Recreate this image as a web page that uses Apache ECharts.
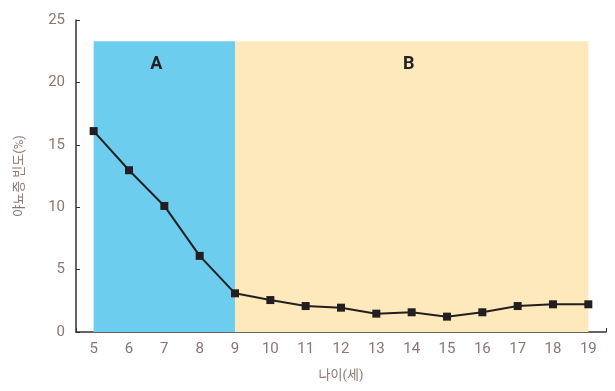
<!DOCTYPE html>
<html>
<head>
<meta charset="utf-8">
<script src="https://cdn.jsdelivr.net/npm/echarts@6/dist/echarts.min.js"></script>
<style>html,body{margin:0;padding:0;background:#fff}#c{width:615px;height:391px}</style>
</head>
<body>
<div id="c"></div>
<script>
var ages = ['5','6','7','8','9','10','11','12','13','14','15','16','17','18','19'];
var freq = [16.1, 12.96, 10.1, 6.1, 3.1, 2.56, 2.08, 1.95, 1.47, 1.58, 1.23, 1.58, 2.08, 2.22, 2.22];
var yTicks = [0, 5, 10, 15, 20, 25];
var zoneA = {label: 'A', from: '5', to: '9', top: 23.3};
var zoneB = {label: 'B', from: '9', to: '19', top: 23.3};

var font = 'Roboto, "Noto Sans CJK KR", sans-serif';
var labelColor = '#8a7670';
var chart = echarts.init(document.getElementById('c'));
chart.setOption({
  animation: false,
  grid: {left: 76, top: 20, width: 530, bottom: 59},
  xAxis: {
    type: 'category',
    data: ages,
    boundaryGap: true,
    name: '나이(세)',
    nameLocation: 'middle',
    nameGap: 37,
    nameTextStyle: {color: labelColor, fontSize: 13, fontFamily: font},
    axisLine: {lineStyle: {color: '#333', width: 1.5}},
    axisTick: {show: true, inside: true, length: 4, lineStyle: {color: '#333'}},
    axisLabel: {color: labelColor, fontSize: 15, margin: 10, fontFamily: font}
  },
  yAxis: {
    type: 'value',
    min: yTicks[0],
    max: yTicks[yTicks.length - 1],
    interval: 5,
    name: '야뇨증 빈도(%)',
    nameLocation: 'middle',
    nameGap: 50,
    nameRotate: 90,
    nameTextStyle: {color: labelColor, fontSize: 13, fontFamily: font},
    splitLine: {show: false},
    axisLine: {show: true, lineStyle: {color: '#333', width: 1.5}},
    axisTick: {show: true, inside: true, length: 4, lineStyle: {color: '#333'}},
    axisLabel: {color: labelColor, fontSize: 15, margin: 11, fontFamily: font}
  },
  series: [{
    type: 'line',
    data: freq,
    symbol: 'rect',
    symbolSize: 8,
    itemStyle: {color: '#231f20'},
    lineStyle: {color: '#231f20', width: 2},
    z: 5,
    markArea: {
      silent: true,
      label: {position: 'insideTop', distance: 14, fontSize: 18, fontWeight: 'bold', color: '#222', fontFamily: font},
      data: [
        [{name: zoneA.label, xAxis: zoneA.from, yAxis: 0, itemStyle: {color: '#6ccdef'}, label: {offset: [-8, 0]}}, {xAxis: zoneA.to, yAxis: zoneA.top}],
        [{name: zoneB.label, xAxis: zoneB.from, yAxis: 0, itemStyle: {color: '#fde9bb'}, label: {offset: [-3, 0]}}, {xAxis: zoneB.to, yAxis: zoneB.top}]
      ]
    }
  }]
});
</script>
</body>
</html>
